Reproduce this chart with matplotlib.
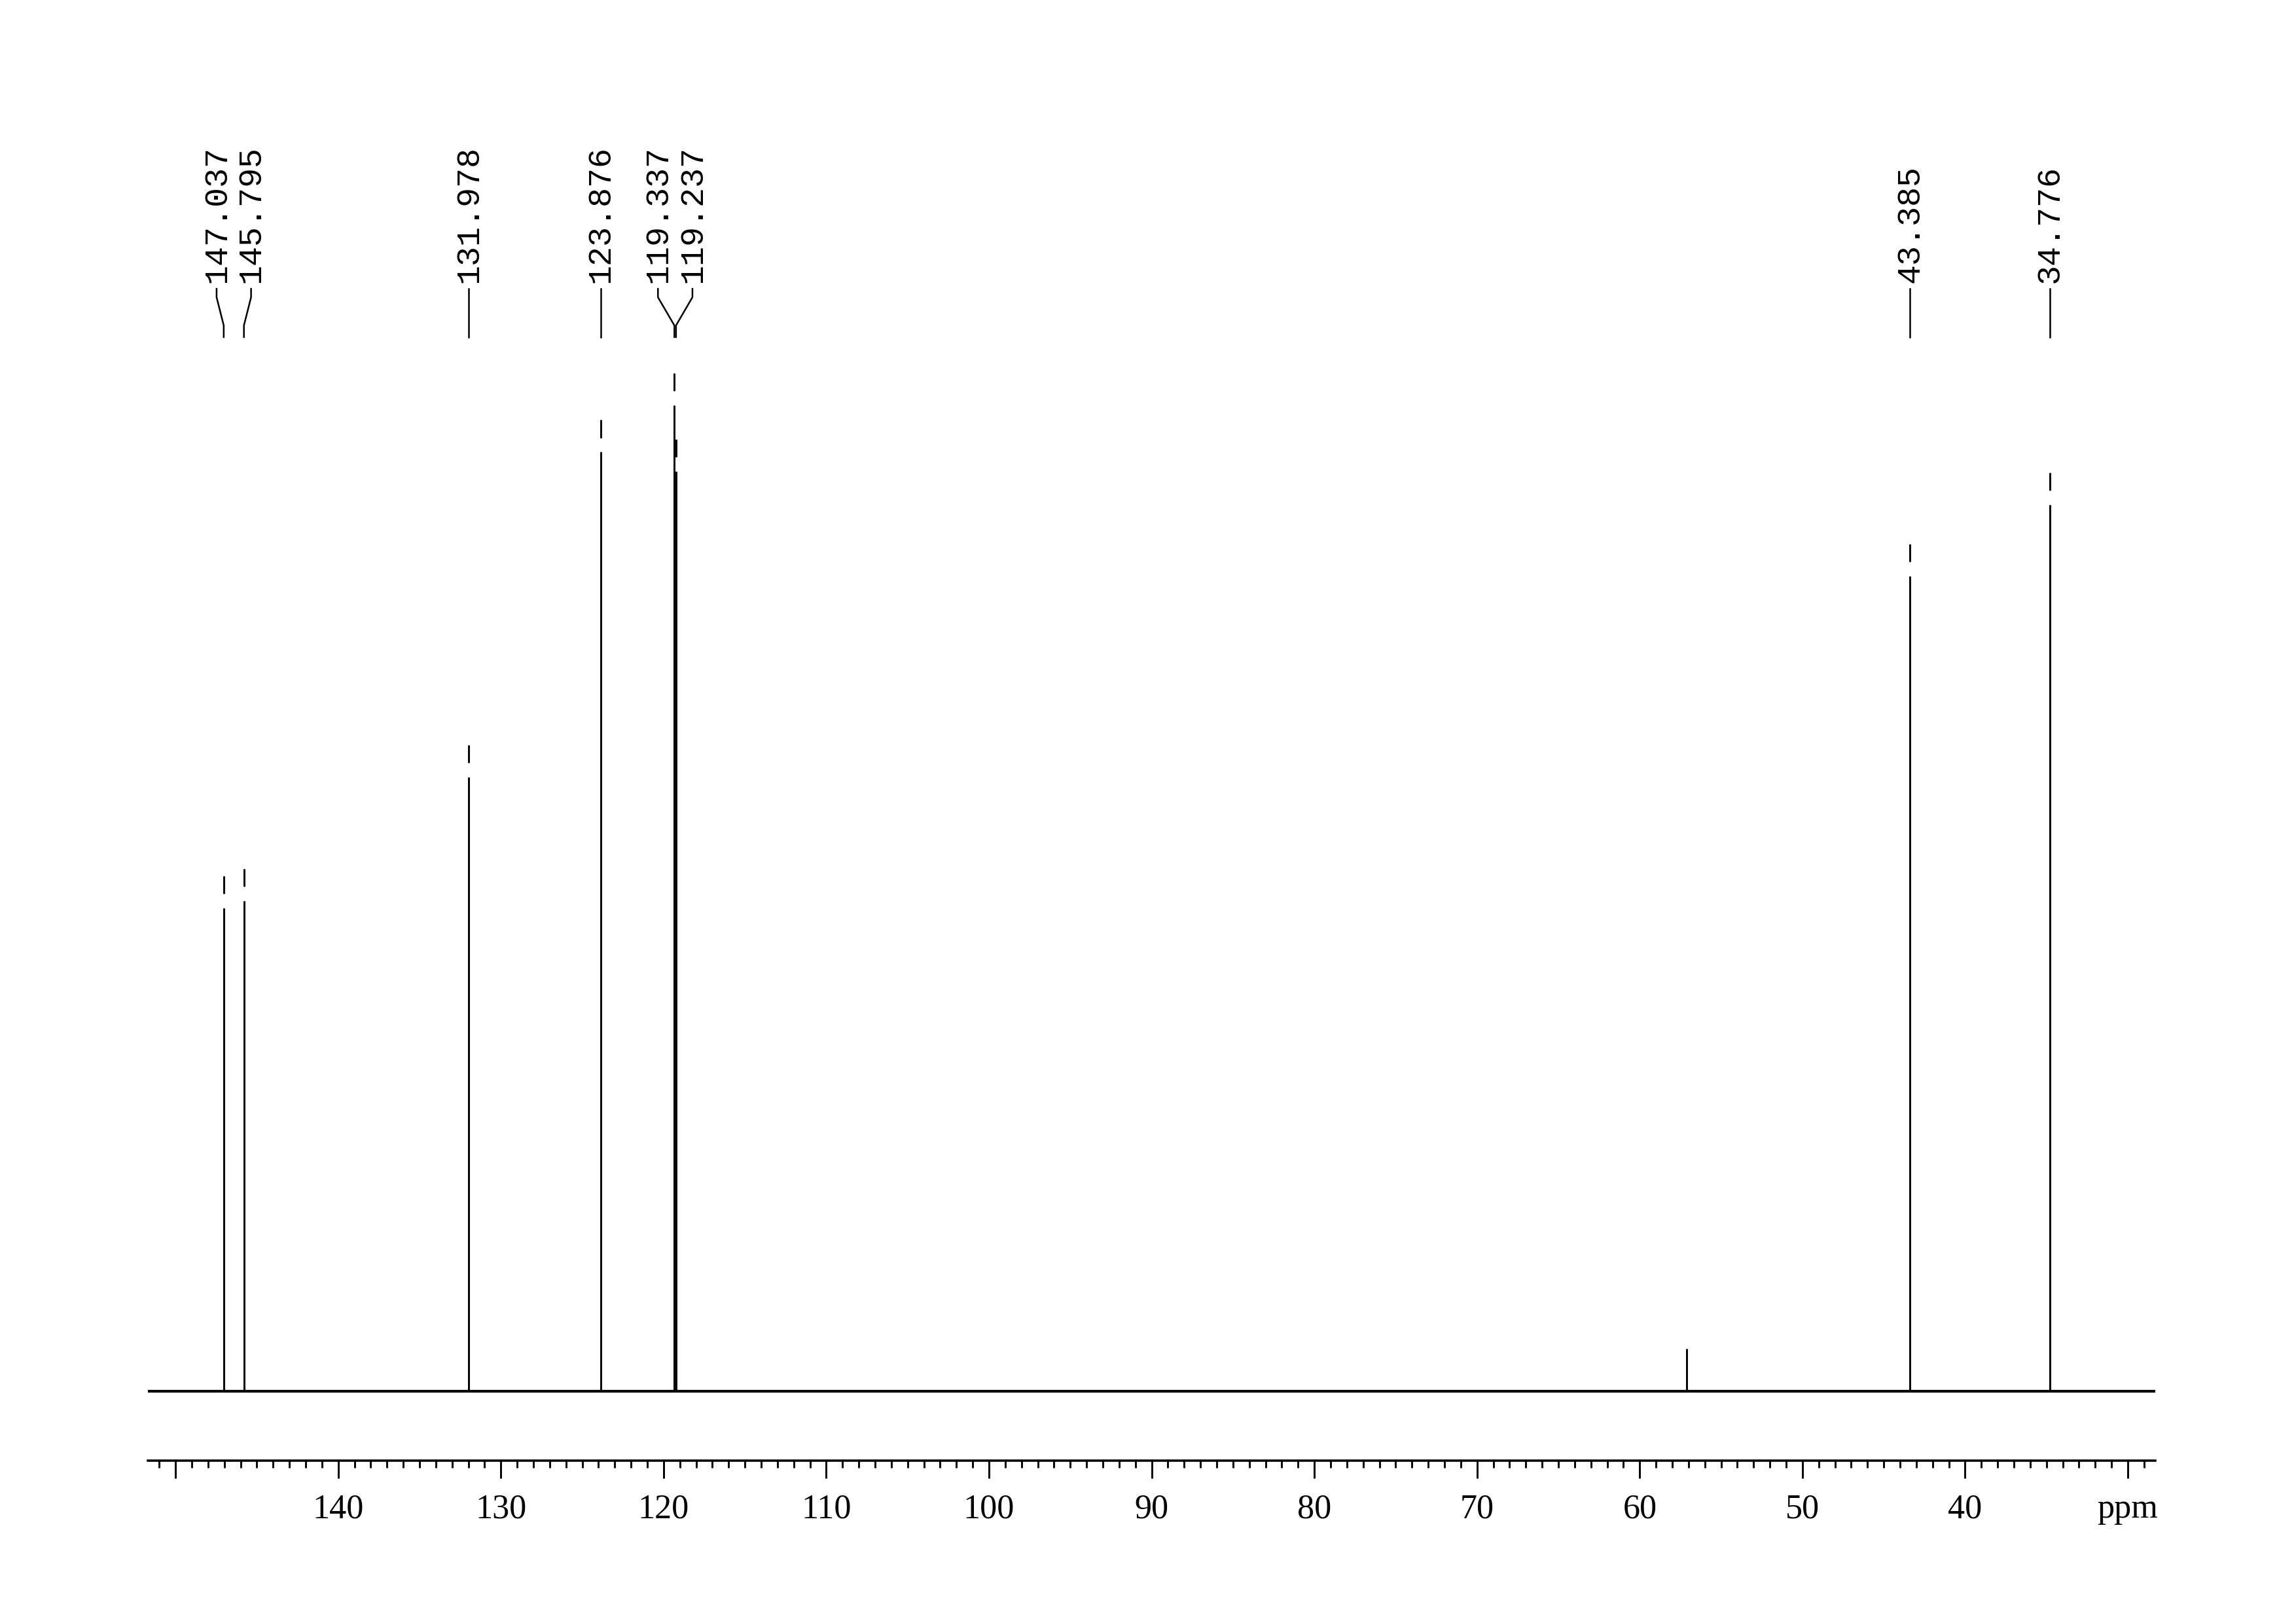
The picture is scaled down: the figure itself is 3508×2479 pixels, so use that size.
import numpy as np
import matplotlib.pyplot as plt
from matplotlib import transforms
from matplotlib.ticker import FixedLocator, MultipleLocator, FixedFormatter

# 13C peak list (ppm, relative height with tallest = 100)
peak_ppm = [147.037, 145.795, 131.978, 123.876, 119.337, 119.237, 57.10, 43.385, 34.776]
peak_height = [50.6, 51.3, 63.5, 95.4, 100.0, 93.5, 4.2, 83.2, 90.2]
labelled_ppm = [147.037, 145.795, 131.978, 123.876, 119.337, 119.237, 43.385, 34.776]

major_ticks = [150, 140, 130, 120, 110, 100, 90, 80, 70, 60, 50, 40, 30]
tick_labels = ["", "140", "130", "120", "110", "100", "90", "80", "70", "60", "50", "40", "ppm"]

x_left, x_right = 151.70, 28.30

fig = plt.figure(figsize=(3508 / 300, 2479 / 300), dpi=300)
ax = fig.add_axes([0.0644, 0.1000, 0.8744, 0.9000])
ax.set_xlim(x_left, x_right)
ax.set_ylim(-6.82, 136.65)

# baseline (noise band) and peaks
ax.axhline(0, color="black", lw=1.0, zorder=2)
ppm = np.array(peak_ppm)
h = np.array(peak_height)
tall = h > 20
gap_lo, gap_hi = 1.74, 3.15
# tall peaks show a small break just below their tip in the printed plot
ax.vlines(ppm[~tall], 0, h[~tall], color="black", lw=0.7, zorder=3)
ax.vlines(ppm[tall], 0, h[tall] - gap_hi, color="black", lw=0.7, zorder=3)
ax.vlines(ppm[tall], h[tall] - gap_lo, h[tall], color="black", lw=0.7, zorder=3)

# x axis
for s in ["top", "left", "right"]:
    ax.spines[s].set_visible(False)
ax.spines["bottom"].set_linewidth(0.85)
ax.yaxis.set_visible(False)
ax.xaxis.set_major_locator(FixedLocator(major_ticks))
ax.xaxis.set_major_formatter(FixedFormatter(tick_labels))
ax.xaxis.set_minor_locator(MultipleLocator(1))
ax.tick_params(axis="x", which="major", length=6.5, width=0.7, pad=5.5,
               labelsize=12.5, direction="out")
ax.tick_params(axis="x", which="minor", length=2.6, width=0.7, direction="out")
for lab in ax.get_xticklabels():
    lab.set_family(["Liberation Serif", "DejaVu Serif"])


# spread the peak labels so they don't overlap
def spread(xs, min_sep):
    xs = sorted(xs)
    groups = [[x] for x in xs]
    changed = True
    while changed:
        changed = False
        pos = []
        for g in groups:
            m = np.mean(g)
            n = len(g)
            pos.append([m + (i - (n - 1) / 2) * min_sep for i in range(n)])
        for i in range(len(groups) - 1):
            if pos[i + 1][0] - pos[i][-1] < min_sep:
                groups[i] = groups[i] + groups[i + 1]
                del groups[i + 1]
                changed = True
                break
    out = {}
    for g in groups:
        m = np.mean(g)
        n = len(g)
        for i, x in enumerate(g):
            out[x] = m + (i - (n - 1) / 2) * min_sep
    return out


label_pos = spread(labelled_ppm, 2.12)
trans = transforms.blended_transform_factory(ax.transData, ax.transAxes)
y_text, y_top, y_b1, y_b2, y_bot = 0.8064, 0.8023, 0.7965, 0.7772, 0.7692
for p in labelled_ppm:
    lx = label_pos[p]
    ax.plot([lx, lx, p, p], [y_top, y_b1, y_b2, y_bot], color="black", lw=0.6,
            transform=trans, clip_on=False)
    ax.text(lx, y_text, f"{p:.3f}", rotation=90, ha="center", va="bottom",
            transform=trans, fontsize=12, family=["Liberation Mono", "DejaVu Sans Mono"])

fig.savefig("out.png", dpi=300, facecolor="white")
